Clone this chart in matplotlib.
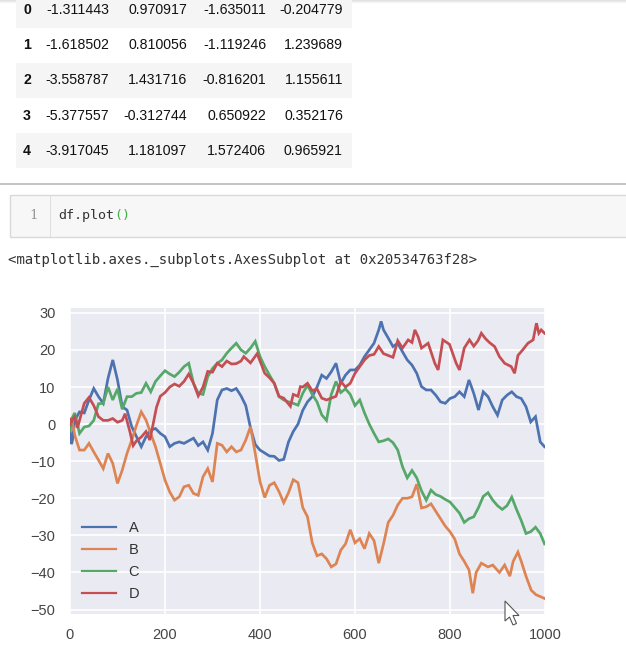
import matplotlib
matplotlib.use("Agg")
import matplotlib.pyplot as plt
from matplotlib.patches import Rectangle, Polygon

# ---------------- data ----------------
table_index = ['0', '1', '2', '3', '4']
table_A = ['-1.311443', '-1.618502', '-3.558787', '-5.377557', '-3.917045']
table_B = ['0.970917', '0.810056', '1.431716', '-0.312744', '1.181097']
table_C = ['-1.635011', '-1.119246', '-0.816201', '0.650922', '1.572406']
table_D = ['-0.204779', '1.239689', '1.155611', '0.352176', '0.965921']

code_line = 'df.plot'
code_parens = '()'
output_line = '<matplotlib.axes._subplots.AxesSubplot at 0x20534763f28>'

series_names = ['A', 'B', 'C', 'D']
series_colors = ['#4C72B0', '#DD8452', '#55A868', '#C44E52']

A_x = [0, 3, 5] + list(range(10, 651, 10)) + [655] + list(range(660, 991, 10)) + [999]
A_y = [-1.3, -5.4, -4.5,
       1, 3.3, 3, 6.5, 9.6, 7.4, 5.6, 12.3, 17.3, 11.9,
       4.7, 3.8, -0.7, -3.4, -6.1, -3.4, -1.6, -1.2, -2.5, -3.4,
       -6.1, -5.2, -4.8, -5.2, -4.5, -3.8, -5.8, -4.8, -7, -2.5,
       6.5, 9.2, 9.6, 9, 9.6, 7.6, 5, -1, -5.5, -7,
       -7.8, -8.6, -8.7, -9.8, -9.5, -4.8, -2, 0, 3.7, 6,
       7.4, 10, 13.2, 12.3, 14.1, 16.4, 11, 13.2, 14.6, 14.6,
       15.9, 18.2, 20, 21.8, 25.4,
       27.7,
       25.4, 23.2, 20.9, 21.8, 19.5, 17.3, 15.9, 13.7, 10.1, 9.2,
       9.2, 7.8, 6, 5.6, 6.9, 7.4, 8.7, 7.4, 11.9, 8.3,
       3.8, 8.7, 7.4, 4.7, 2.4, 6.5, 7.8, 8.7, 7.4, 6.9,
       4.7, 0.6, 2, -4.8,
       -6.1]

B_x = [0, 2, 3, 4] + list(range(10, 841, 10)) + [848, 855, 866, 880, 890, 904, 915, 926,
                                               933, 943, 950, 960, 971, 981, 990, 999]
B_y = [0.97, 1.43, -0.31, 1.18,
       -3, -7, -7, -5.2, -7.5, -9.7, -12, -7.9, -10.6, -16,
       -12.4, -7.9, -4.3, -0.3, 3.3, 1.1, -2.5, -6.1, -10.6, -15.1,
       -18.3, -20.5, -19.6, -16.9, -16.5, -18.7, -19.2, -14.2, -12, -15.6,
       -5.2, -5.7, -7.5, -6.1, -7.5, -7, -4.3, -0.7, -7.9, -15.5,
       -19.8, -16.5, -15.8, -18.2, -21.2, -18.5, -15, -15.8, -22.5, -25,
       -32, -35.5, -35, -36.3, -38.5, -37.7, -34, -32.3, -28.5, -32,
       -30.9, -33.6, -29.5, -31.4, -37.5, -32.3, -26.5, -24.6, -21.8, -20,
       -20, -19.6, -16.2, -22.6, -22.3, -21.5, -23.5, -25.5, -27.5, -29,
       -31, -35, -37, -39.3,
       -45.6, -40, -37.5, -38.5, -38, -40, -38, -41,
       -37, -34.5, -37, -41, -44.8, -46, -46.5, -47]

C_x = [0, 1, 2, 3, 4] + list(range(10, 991, 10)) + [999]
C_y = [-1.64, -1.12, -0.82, 0.65, 1.57,
       3, -2.5, -0.8, -0.5, 1, 5.5, 5.6, 10, 6.5, 9.5,
       4, 7.4, 7.4, 8.3, 8.5, 11, 8.7, 11.5, 13, 14.4,
       13.5, 12.8, 14, 15.5, 16.4, 11, 8.3, 8, 12.8, 15,
       16.4, 17.3, 19.1, 20.5, 21.8, 20, 19.1, 20.5, 22.3, 18.2,
       15.5, 13.2, 11, 7.4, 6.5, 6, 5.6, 5.1, 8.3, 10.5,
       8, 6, 2.5, 1, 8, 11.5, 8.5, 9.5, 8, 5,
       6.5, 3, 0, -2.5, -4.8, -4.5, -4, -5, -7, -11.5,
       -14.5, -12.5, -14.5, -18, -20.5, -17.8, -19, -19.5, -20.3, -21,
       -22.5, -24, -26.5, -25.5, -25, -22.5, -19.5, -18.5, -20.5, -22,
       -23, -22, -19.7, -23, -26, -29.5, -29, -27.8, -29.5,
       -32.3]

D_x = [0, 1, 2, 3, 4, 10, 16, 20, 30, 40, 50, 60, 70, 80, 90, 100, 110, 116, 126, 133,
       140, 150, 160, 168, 175, 182] + list(range(190, 361, 10)) + [366, 380, 394, 400, 410,
       420, 430, 440, 450, 464, 470, 480, 485] + list(range(490, 701, 10)) + [
       712, 720, 726, 733, 740, 754, 760, 768, 775, 785, 799, 813, 820, 830, 841, 850, 859,
       866, 875, 883, 894, 904, 915, 929, 936, 943, 953, 964, 975, 982, 987, 992, 999]
D_y = [-0.2, 1.24, 1.16, 0.35, 0.97, 2, -1, 1, 5.6, 7.2, 5, 2, 1, 1, 1.5, 0.5, 1, 2.8, -2, -5.8,
       -4.5, -3.5, -2, -4.3, 0, 4.5,
       7.5, 8.5, 10, 10.8, 10.2, 11.5, 13.5, 11, 7.6, 10, 14.2, 14, 16.4, 15.5, 17, 16.2, 16.3, 17,
       18.2, 16.5, 19, 17, 13.7, 12.5, 11, 7.5, 7, 4.8, 8, 7.5, 10.1,
       10, 11, 9, 9.5, 7, 6.5, 7, 7.5, 11.5, 10, 11, 13.7, 15.5, 17.3, 18.5, 18.8, 20.9, 19,
       18.5, 18, 22.5, 20.5,
       22.7, 22, 25.4, 23.5, 20.5, 21.8, 19.5, 16.4, 14.6, 22.7, 21.5, 16.4, 14.6, 20.5, 22.7,
       21, 22.5, 24.5, 23, 22, 20.9, 18.2, 16.4, 15.5, 13.7, 18.5, 20, 21.8, 22.7, 27.2, 24.5,
       25.4, 24.5]

series_x = [A_x, B_x, C_x, D_x]
series_y = [A_y, B_y, C_y, D_y]

x_ticks = [0, 200, 400, 600, 800, 1000]
y_ticks = [-50, -40, -30, -20, -10, 0, 10, 20, 30]

# ---------------- figure ----------------
W, H = 626, 658
fig = plt.figure(figsize=(W / 100, H / 100), dpi=100)
fig.patch.set_facecolor('white')


def fx(px):
    return px / W


def fy(py):
    return 1 - py / H


def frect(x0, y0, x1, y1, **kw):
    r = Rectangle((fx(x0), fy(y1)), (x1 - x0) / W, (y1 - y0) / H,
                  transform=fig.transFigure, **kw)
    fig.patches.append(r)
    return r


sans = ['Liberation Sans', 'DejaVu Sans']
mono = ['DejaVu Sans Mono']

# top shadow
for k, c in enumerate(['#e2e2e2', '#ececec', '#f4f4f4']):
    frect(0, k, W, k + 1, facecolor=c, edgecolor='none')

# table
row_h = 35.1
row0 = 10.3
for k in range(len(table_index)):
    yc = row0 + k * row_h
    if k % 2 == 0:
        frect(16, yc - row_h / 2, 352, yc + row_h / 2, facecolor='#f5f5f5', edgecolor='none')
    fig.text(fx(27), fy(yc), table_index[k], ha='center', va='center',
             fontsize=10.2, fontweight='bold', family=sans, color='#111111')
    for xr, col in zip([109, 187, 266, 343], [table_A, table_B, table_C, table_D]):
        fig.text(fx(xr), fy(yc), col[k], ha='right', va='center',
                 fontsize=10.2, family=sans, color='#111111')

# separator line
frect(0, 183, W, 185, facecolor='#c4c4c4', edgecolor='none')

# code cell
frect(10, 195, W + 20, 237, facecolor='#f7f7f7', edgecolor='#d9d9d9', linewidth=1)
frect(50, 195, 51, 237, facecolor='#dedede', edgecolor='none')
fig.text(fx(38), fy(216), '1', ha='right', va='center', fontsize=9.6,
         family=['DejaVu Serif'], color='#999999')
fig.text(fx(58), fy(216), code_line, ha='left', va='center', fontsize=9.6,
         family=mono, color='#333333')
fig.text(fx(58 + 8.0 * len(code_line)), fy(216), code_parens, ha='left', va='center',
         fontsize=9.6, family=mono, color='#3cb043')

# output text
fig.text(fx(8), fy(260), output_line, ha='left', va='center', fontsize=10.1,
         family=mono, color='#333333')

# ---------------- plot ----------------
ax = fig.add_axes([fx(70), fy(614), (545 - 70) / W, (614 - 308) / H])
ax.set_facecolor('#EAEAF2')
for s in ax.spines.values():
    s.set_visible(False)
ax.grid(True, color='white', linewidth=1.2)
ax.set_axisbelow(True)

for name, xs, ys, c in zip(series_names, series_x, series_y, series_colors):
    ax.plot(xs, ys, color=c, linewidth=1.95, label=name, solid_joinstyle='miter')

ax.set_xlim(0, 999)
ax.set_ylim(-51.2, 31.3)
ax.set_xticks(x_ticks)
ax.set_yticks(y_ticks)
ax.tick_params(length=0, labelsize=10.5, labelcolor='#444444')
ax.tick_params(axis='y', pad=10.5)
ax.tick_params(axis='x', pad=10)
for lab in ax.get_xticklabels() + ax.get_yticklabels():
    lab.set_family(sans)

leg = ax.legend(loc='upper left',
                bbox_to_anchor=((82 - 70) / 475, (614 - 521) / 306),
                borderaxespad=0, borderpad=0, frameon=False,
                handlelength=2.3, handletextpad=0.9, labelspacing=0.55,
                prop={'family': sans, 'size': 10.5})
for line in leg.get_lines():
    line.set_linewidth(1.6)
for t in leg.get_texts():
    t.set_color('#333333')

# mouse cursor
cursor = [(505, 601), (505, 621), (509.5, 617), (513, 625), (516.5, 623.5),
          (513, 615.5), (519, 615.5)]
fig.patches.append(Polygon([(fx(a), fy(b)) for a, b in cursor], closed=True,
                           transform=fig.transFigure, facecolor='white',
                           edgecolor='#555555', linewidth=0.8))

fig.savefig('out.png', dpi=100, facecolor='white')
